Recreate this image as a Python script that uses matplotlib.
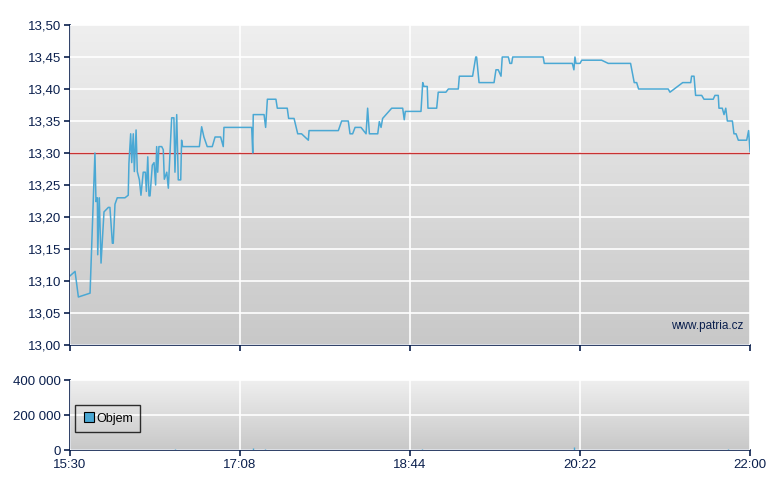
import matplotlib
matplotlib.use('Agg')
import matplotlib.pyplot as plt
import numpy as np
from matplotlib.lines import Line2D

plt.rcParams['font.family'] = ['Liberation Sans', 'DejaVu Sans']

# minutes after 15:30 and price
minutes = [0, 2.9, 4.8, 11.5, 14.3, 14.9, 15.7, 15.9, 16.8, 17.8, 19.5, 22.0, 22.9, 24.3, 24.8,
           25.8, 27.1, 31.5, 33.4, 33.8, 34.8, 35.4, 36.3, 36.9, 37.9, 38.6, 39.8, 40.7, 42.0,
           43.2, 43.8, 44.6, 45.3, 45.9, 47.2, 48.2, 49.1, 49.7, 50.3, 51.0, 52.6, 53.5, 54.1,
           55.5, 56.4, 58.3, 59.6, 60.2, 61.2, 62.1, 63.5, 64.0, 64.6, 74.2, 75.5, 76.8, 78.7,
           81.6, 83.2, 86.4, 87.9, 88.3, 104.2, 104.8, 105.1, 111.3, 112.2, 113.2, 118.1, 118.9,
           124.6, 125.4, 128.5, 130.6, 132.8, 136.7, 137.1, 153.9, 155.8, 159.6, 160.6, 162.1,
           163.5, 166.9, 169.8, 170.7, 171.7, 176.5, 177.4, 178.4, 179.3, 184.5, 190.8, 191.7,
           192.3, 201.3, 202.3, 203.0, 204.9, 205.3, 210.3, 211.2, 215.6, 217.0, 222.7, 223.3,
           230.9, 232.7, 233.2, 234.6, 243.2, 244.3, 245.6, 247.2, 247.9, 251.4, 252.3, 253.3,
           253.9, 271.4, 272.0, 288.1, 289.0, 289.6, 290.2, 292.5, 293.5, 304.9, 308.7, 321.5,
           323.6, 325.0, 326.1, 343.1, 344.1, 351.4, 356.0, 356.5, 357.9, 358.8, 362.3, 363.6,
           368.9, 369.9, 371.8, 372.2, 374.1, 375.1, 376.1, 377.0, 379.9, 380.8, 382.0, 383.3,
           388.1, 389.2, 390]
prices = [13.108, 13.115, 13.075, 13.081, 13.30, 13.224, 13.23, 13.141, 13.23, 13.128, 13.208,
          13.215, 13.215, 13.159, 13.159, 13.22, 13.23, 13.23, 13.234, 13.284, 13.33, 13.285,
          13.33, 13.271, 13.336, 13.271, 13.258, 13.234, 13.27, 13.27, 13.24, 13.294, 13.233,
          13.233, 13.281, 13.285, 13.25, 13.31, 13.27, 13.31, 13.31, 13.305, 13.259, 13.27,
          13.245, 13.355, 13.355, 13.27, 13.36, 13.258, 13.258, 13.32, 13.31, 13.31, 13.341,
          13.325, 13.31, 13.31, 13.325, 13.325, 13.31, 13.34, 13.34, 13.30, 13.36, 13.36, 13.34,
          13.384, 13.384, 13.37, 13.37, 13.354, 13.354, 13.33, 13.33, 13.32, 13.335, 13.335,
          13.35, 13.35, 13.33, 13.33, 13.34, 13.34, 13.33, 13.37, 13.33, 13.33, 13.349, 13.34,
          13.354, 13.37, 13.37, 13.352, 13.365, 13.365, 13.41, 13.404, 13.404, 13.37, 13.37,
          13.395, 13.395, 13.40, 13.40, 13.42, 13.42, 13.45, 13.45, 13.41, 13.41, 13.43, 13.43,
          13.42, 13.45, 13.45, 13.44, 13.44, 13.45, 13.45, 13.44, 13.44, 13.43, 13.45, 13.44,
          13.44, 13.445, 13.445, 13.44, 13.44, 13.41, 13.41, 13.40, 13.40, 13.395, 13.41, 13.41,
          13.42, 13.42, 13.39, 13.39, 13.384, 13.384, 13.39, 13.39, 13.37, 13.37, 13.36, 13.37,
          13.35, 13.35, 13.33, 13.33, 13.32, 13.32, 13.335, 13.302]

prev_close = 13.30

vol_minutes = [60.2, 63.1, 87.6, 105.1, 111.8, 202.0, 289.2, 345.0, 377.5]
volumes = [4000, 2000, 2000, 12000, 3000, 3000, 17000, 2000, 3000]

tick_pos = [0, 97.5, 195, 292.5, 390]
tick_labels = ['15:30', '17:08', '18:44', '20:22', '22:00']
price_ticks = [13.00, 13.05, 13.10, 13.15, 13.20, 13.25, 13.30, 13.35, 13.40, 13.45, 13.50]
vol_ticks = [0, 200000, 400000]

navy = '#0a1f4d'
blue = '#4aa8d4'


def gradient(ax):
    g = np.linspace(0, 1, 256).reshape(-1, 1)
    ax.imshow(g, extent=[0, 1, 0, 1], transform=ax.transAxes, aspect='auto',
              cmap=matplotlib.colors.LinearSegmentedColormap.from_list('bg', ['#efefef', '#c8c8c8']),
              zorder=0, interpolation='bilinear')


def style(ax):
    for s in ['top', 'right']:
        ax.spines[s].set_visible(False)
    for s in ['left', 'bottom']:
        ax.spines[s].set_color(navy)
        ax.spines[s].set_linewidth(1.2)
    ax.tick_params(colors=navy, labelcolor=navy, labelsize=9.5, length=4, width=1.2, pad=2.5)
    ax.grid(True, color='white', linewidth=1.2, zorder=1)
    ax.set_axisbelow(False)


fig = plt.figure(figsize=(7.8, 4.9), dpi=100)
ax = fig.add_axes([70 / 780, 1 - 345 / 490, 680 / 780, 320 / 490])
gradient(ax)
ax.plot(minutes, prices, color=blue, linewidth=1.1, zorder=4)
ax.axhline(prev_close, color='#c83232', linewidth=1, zorder=3)
ax.set_xlim(0, 390)
ax.set_ylim(13.0, 13.5)
ax.set_yticks(price_ticks)
ax.set_yticklabels([f'{v:.2f}'.replace('.', ',') for v in price_ticks])
ax.set_xticks(tick_pos)
ax.set_xticklabels([])
style(ax)
ax.text(0.99, 0.06, 'www.patria.cz', transform=ax.transAxes, ha='right', va='center',
        fontsize=8.5, color=navy, zorder=5)

ax2 = fig.add_axes([70 / 780, 1 - 450 / 490, 680 / 780, 70 / 490])
gradient(ax2)
ax2.vlines(vol_minutes, 0, volumes, color=blue, linewidth=1, zorder=4)
ax2.set_xlim(0, 390)
ax2.set_ylim(0, 400000)
ax2.set_yticks(vol_ticks)
ax2.set_yticklabels([f'{v:,}'.replace(',', ' ') for v in vol_ticks])
ax2.set_xticks(tick_pos)
ax2.set_xticklabels(tick_labels)
style(ax2)
handle = Line2D([], [], marker='s', linestyle='none', markersize=7,
                markerfacecolor=blue, markeredgecolor='black', markeredgewidth=0.8)
leg = ax2.legend([handle], ['Objem'], loc='center left', bbox_to_anchor=(0.007, 0.45),
                 borderaxespad=0, frameon=True, fancybox=False, fontsize=9,
                 handletextpad=0.1, borderpad=0.6, handlelength=1.0)
leg.get_frame().set_edgecolor('black')
leg.get_frame().set_facecolor('none')
leg.get_frame().set_linewidth(1)

fig.savefig('out.png', dpi=100)
